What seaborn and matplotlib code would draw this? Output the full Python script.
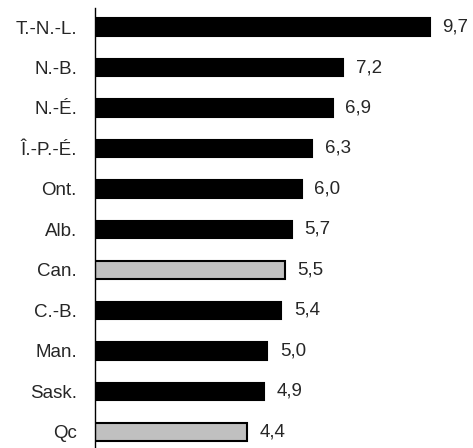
import seaborn as sns
import matplotlib.pyplot as plt
import pandas as pd

provinces = ["T.-N.-L.", "N.-B.", "N.-É.", "Î.-P.-É.", "Ont.", "Alb.",
             "Can.", "C.-B.", "Man.", "Sask.", "Qc"]
values = [9.7, 7.2, 6.9, 6.3, 6.0, 5.7, 5.5, 5.4, 5.0, 4.9, 4.4]
highlight = ["Can.", "Qc"]

df = pd.DataFrame({"province": provinces, "value": values})
colors = ["#c0c0c0" if p in highlight else "#000000" for p in provinces]

sns.set_style("white")
plt.rcParams["font.family"] = ["Liberation Sans", "DejaVu Sans"]

W, H, DPI = 473, 448, 100
fig = plt.figure(figsize=(W / DPI, H / DPI), dpi=DPI)
ax = fig.add_axes([95 / W, 0, 1 - 95 / W, 1 - 8 / H])

sns.barplot(data=df, x="value", y="province", hue="province",
            palette=colors, legend=False, width=0.43,
            edgecolor="black", linewidth=1.5, ax=ax)

ax.set_xlim(0, 10.96)
ax.set_ylim(10.4, -0.47)

for i, v in enumerate(values):
    ax.annotate(f"{v:.1f}".replace(".", ","), xy=(v, i), xytext=(9, 0),
                textcoords="offset points", va="center", ha="left", fontsize=13.5)

sns.despine(ax=ax, top=True, right=True, bottom=True, left=False)
ax.spines["left"].set_color("black")
ax.spines["left"].set_linewidth(1)
ax.set_xticks([])
ax.set_xlabel("")
ax.set_ylabel("")
ax.tick_params(axis="y", length=0, labelsize=13.5, pad=13)

plt.savefig("out.png", dpi=DPI)
plt.close()
